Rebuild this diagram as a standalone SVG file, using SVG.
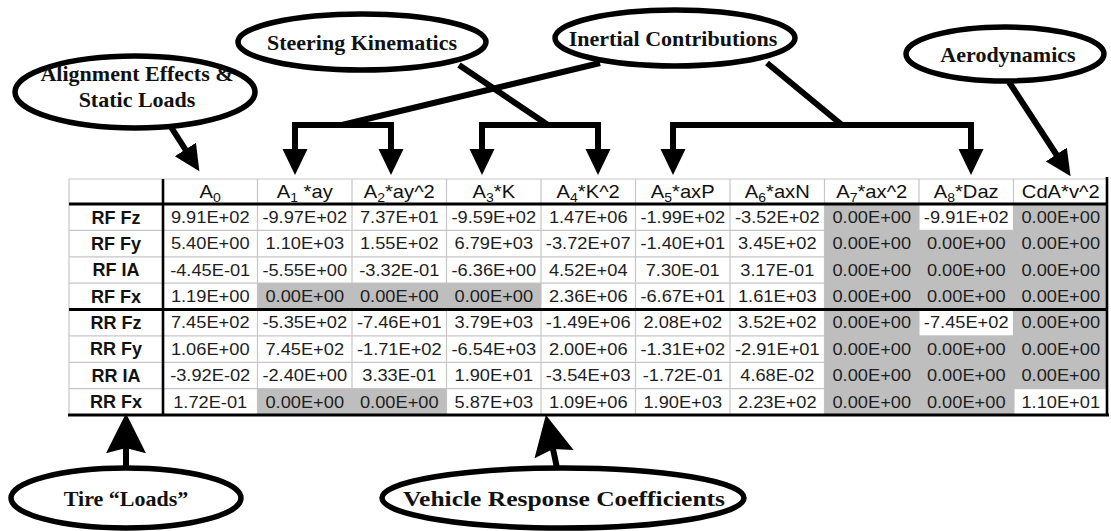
<svg xmlns="http://www.w3.org/2000/svg" width="1111" height="531" viewBox="0 0 1111 531">
<style>
.grid{stroke:#c6c6c6;stroke-width:1.2;fill:none}
.shade{fill:#bebebe}
.thick{stroke:#000;stroke-width:3;fill:none}
.num{font-family:"Liberation Sans",Arial,sans-serif;font-size:16.3px;fill:#1e1e1e;text-anchor:middle}
.hdr{font-family:"Liberation Sans",Arial,sans-serif;font-size:18px;fill:#111;text-anchor:middle}
.sub{font-size:12.5px}
.lbl{font-family:"Liberation Sans",Arial,sans-serif;font-size:18px;font-weight:bold;fill:#111;text-anchor:middle}
.ell{fill:#fff;stroke:#000;stroke-width:5.5}
.etx{font-family:"Liberation Serif","Times New Roman",serif;font-size:22px;font-weight:bold;fill:#111;text-anchor:middle}
.con{stroke:#000;stroke-width:6;fill:none;stroke-linejoin:miter}
</style>
<defs>
<marker id="ah" markerUnits="userSpaceOnUse" markerWidth="26" markerHeight="26" refX="3" refY="12.5" orient="auto" viewBox="0 0 26 25">
<path d="M0,0 L26,12.5 L0,25 z" fill="#000"/>
</marker>
<marker id="big" markerUnits="userSpaceOnUse" markerWidth="40" markerHeight="40" refX="5" refY="19" orient="auto" viewBox="0 0 38 38">
<path d="M0,0 L38,19 L0,38 L5,19 z" fill="#000"/>
</marker>
</defs>
<rect x="0" y="0" width="1111" height="531" fill="#fff"/>

<g id="table">
<rect x="69" y="179" width="1039" height="236" fill="#fff"/>
<g class="grid">
<path d="M69,179 H1108 M69,230.4 H1108 M69,256.8 H1108 M69,283.1 H1108 M69,335.9 H1108 M69,362.3 H1108 M69,388.6 H1108"/>
<path d="M69,179 V415 M257.5,179 V415 M352,179 V415 M446.5,179 V415 M541,179 V415 M635.5,179 V415 M730,179 V415 M824.5,179 V415 M919,179 V415 M1013.5,179 V415"/>
</g>
<g class="shade">
<rect x="257.5" y="283.1" width="283.5" height="26.4"/>
<rect x="257.5" y="388.6" width="189" height="26.4"/>
<rect x="824.5" y="204" width="94.5" height="211"/>
<rect x="918" y="230.4" width="96.5" height="79.1"/>
<rect x="918" y="335.9" width="96.5" height="79.1"/>
<rect x="1013" y="204" width="95" height="184.6"/>
</g>
<g class="thick">
<path d="M69,204 H1108"/>
<path d="M69,309.5 H1108"/>
<path d="M68,415 H1109"/>
<path d="M163,179 V415" stroke-width="2.6"/>
<path d="M1107,177 V416" stroke-width="2.6"/>
</g>
<g class="hdr" transform="scale(1.12,1)">
<text x="187.7" y="198">A<tspan class="sub" dy="4">0</tspan></text>
<text x="272.1" y="198">A<tspan class="sub" dy="4">1</tspan><tspan dy="-4"> *ay</tspan></text>
<text x="356.5" y="198">A<tspan class="sub" dy="4">2</tspan><tspan dy="-4">*ay^2</tspan></text>
<text x="440.9" y="198">A<tspan class="sub" dy="4">3</tspan><tspan dy="-4">*K</tspan></text>
<text x="525.2" y="198">A<tspan class="sub" dy="4">4</tspan><tspan dy="-4">*K^2</tspan></text>
<text x="609.6" y="198">A<tspan class="sub" dy="4">5</tspan><tspan dy="-4">*axP</tspan></text>
<text x="694" y="198">A<tspan class="sub" dy="4">6</tspan><tspan dy="-4">*axN</tspan></text>
<text x="778.4" y="198">A<tspan class="sub" dy="4">7</tspan><tspan dy="-4">*ax^2</tspan></text>
<text x="862.7" y="198">A<tspan class="sub" dy="4">8</tspan><tspan dy="-4">*Daz</tspan></text>
<text x="947.1" y="198">CdA*v^2</text>
</g>
<g class="lbl">
<text x="116" y="223.5">RF Fz</text>
<text x="116" y="249.9">RF Fy</text>
<text x="116" y="276.2">RF IA</text>
<text x="116" y="302.6">RF Fx</text>
<text x="116" y="329">RR Fz</text>
<text x="116" y="355.4">RR Fy</text>
<text x="116" y="381.7">RR IA</text>
<text x="116" y="408.1">RR Fx</text>
</g>
<g class="num" transform="scale(1.12,1)">
<text y="223"><tspan x="187.7">9.91E+02</tspan><tspan x="272.1">-9.97E+02</tspan><tspan x="356.5">7.37E+01</tspan><tspan x="440.9">-9.59E+02</tspan><tspan x="525.2">1.47E+06</tspan><tspan x="609.6">-1.99E+02</tspan><tspan x="694">-3.52E+02</tspan><tspan x="778.4">0.00E+00</tspan><tspan x="862.7">-9.91E+02</tspan><tspan x="947.1">0.00E+00</tspan></text>
<text y="249.4"><tspan x="187.7">5.40E+00</tspan><tspan x="272.1">1.10E+03</tspan><tspan x="356.5">1.55E+02</tspan><tspan x="440.9">6.79E+03</tspan><tspan x="525.2">-3.72E+07</tspan><tspan x="609.6">-1.40E+01</tspan><tspan x="694">3.45E+02</tspan><tspan x="778.4">0.00E+00</tspan><tspan x="862.7">0.00E+00</tspan><tspan x="947.1">0.00E+00</tspan></text>
<text y="275.7"><tspan x="187.7">-4.45E-01</tspan><tspan x="272.1">-5.55E+00</tspan><tspan x="356.5">-3.32E-01</tspan><tspan x="440.9">-6.36E+00</tspan><tspan x="525.2">4.52E+04</tspan><tspan x="609.6">7.30E-01</tspan><tspan x="694">3.17E-01</tspan><tspan x="778.4">0.00E+00</tspan><tspan x="862.7">0.00E+00</tspan><tspan x="947.1">0.00E+00</tspan></text>
<text y="302.1"><tspan x="187.7">1.19E+00</tspan><tspan x="272.1">0.00E+00</tspan><tspan x="356.5">0.00E+00</tspan><tspan x="440.9">0.00E+00</tspan><tspan x="525.2">2.36E+06</tspan><tspan x="609.6">-6.67E+01</tspan><tspan x="694">1.61E+03</tspan><tspan x="778.4">0.00E+00</tspan><tspan x="862.7">0.00E+00</tspan><tspan x="947.1">0.00E+00</tspan></text>
<text y="328.5"><tspan x="187.7">7.45E+02</tspan><tspan x="272.1">-5.35E+02</tspan><tspan x="356.5">-7.46E+01</tspan><tspan x="440.9">3.79E+03</tspan><tspan x="525.2">-1.49E+06</tspan><tspan x="609.6">2.08E+02</tspan><tspan x="694">3.52E+02</tspan><tspan x="778.4">0.00E+00</tspan><tspan x="862.7">-7.45E+02</tspan><tspan x="947.1">0.00E+00</tspan></text>
<text y="354.9"><tspan x="187.7">1.06E+00</tspan><tspan x="272.1">7.45E+02</tspan><tspan x="356.5">-1.71E+02</tspan><tspan x="440.9">-6.54E+03</tspan><tspan x="525.2">2.00E+06</tspan><tspan x="609.6">-1.31E+02</tspan><tspan x="694">-2.91E+01</tspan><tspan x="778.4">0.00E+00</tspan><tspan x="862.7">0.00E+00</tspan><tspan x="947.1">0.00E+00</tspan></text>
<text y="381.2"><tspan x="187.7">-3.92E-02</tspan><tspan x="272.1">-2.40E+00</tspan><tspan x="356.5">3.33E-01</tspan><tspan x="440.9">1.90E+01</tspan><tspan x="525.2">-3.54E+03</tspan><tspan x="609.6">-1.72E-01</tspan><tspan x="694">4.68E-02</tspan><tspan x="778.4">0.00E+00</tspan><tspan x="862.7">0.00E+00</tspan><tspan x="947.1">0.00E+00</tspan></text>
<text y="407.6"><tspan x="187.7">1.72E-01</tspan><tspan x="272.1">0.00E+00</tspan><tspan x="356.5">0.00E+00</tspan><tspan x="440.9">5.87E+03</tspan><tspan x="525.2">1.09E+06</tspan><tspan x="609.6">1.90E+03</tspan><tspan x="694">2.23E+02</tspan><tspan x="778.4">0.00E+00</tspan><tspan x="862.7">0.00E+00</tspan><tspan x="947.1">1.10E+01</tspan></text>
</g>
</g>

<g id="connectors">
<path class="con" d="M171,127 L187,152" marker-end="url(#ah)"/>
<path class="con" d="M600,63 L342,125"/>
<path class="con" d="M342,125 H295 V152" marker-end="url(#ah)"/>
<path class="con" d="M342,125 H391 V152" marker-end="url(#ah)"/>
<path class="con" d="M459,65 L548,125"/>
<path class="con" d="M548,125 H482 V152" marker-end="url(#ah)"/>
<path class="con" d="M548,125 H598 V152" marker-end="url(#ah)"/>
<path class="con" d="M767,63 L842,125"/>
<path class="con" d="M842,125 H673 V152" marker-end="url(#ah)"/>
<path class="con" d="M842,125 H971 V152" marker-end="url(#ah)"/>
<path class="con" d="M1009,82 L1058,157" marker-end="url(#ah)"/>
<path class="con" d="M126,468 V448" marker-end="url(#big)"/>
<path class="con" d="M557,468 L553,449" marker-end="url(#big)"/>
</g>

<g id="n-alignment">
<ellipse class="ell" cx="135" cy="92" rx="120" ry="36"/>
<text class="etx" x="137" y="81">Alignment Effects &amp;</text>
<text class="etx" x="137" y="107">Static Loads</text>
</g>
<g id="n-steering">
<ellipse class="ell" cx="362" cy="42" rx="124" ry="28"/>
<text class="etx" x="362" y="50">Steering Kinematics</text>
</g>
<g id="n-inertial">
<ellipse class="ell" cx="675" cy="38" rx="120" ry="28"/>
<text class="etx" x="673" y="46">Inertial Contributions</text>
</g>
<g id="n-aero">
<ellipse class="ell" cx="1005" cy="54" rx="99" ry="27"/>
<text class="etx" x="1008" y="62">Aerodynamics</text>
</g>
<g id="n-tire">
<ellipse class="ell" cx="126" cy="498" rx="115" ry="30"/>
<text class="etx" x="126" y="506">Tire “Loads”</text>
</g>
<g id="n-vehicle">
<ellipse class="ell" cx="563" cy="498" rx="181" ry="30"/>
<text class="etx" x="564" y="506" textLength="322" lengthAdjust="spacingAndGlyphs">Vehicle Response Coefficients</text>
</g>
</svg>
